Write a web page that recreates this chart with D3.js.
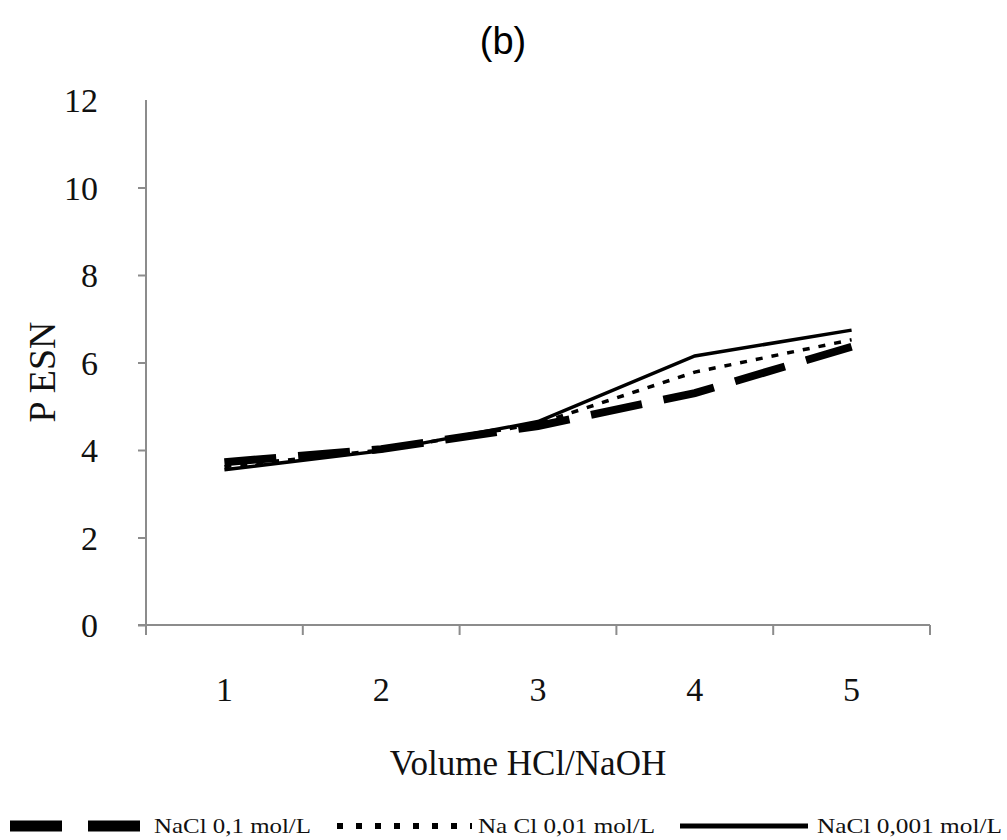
<!DOCTYPE html>
<html>
<head>
<meta charset="utf-8">
<script src="https://cdn.jsdelivr.net/npm/d3@7"></script>
<style>
  body { margin: 0; background: #fff; }
  svg { display: block; }
</style>
</head>
<body>
<div id="chart"></div>
<script>
// Data
const volumes = [1, 2, 3, 4, 5];
const yTicks = [0, 2, 4, 6, 8, 10, 12];
const nacl01 = [3.72, 4.02, 4.55, 5.3, 6.36];    // NaCl 0,1 mol/L
const nacl001 = [3.62, 4.0, 4.6, 5.78, 6.52];    // Na Cl 0,01 mol/L
const nacl0001 = [3.55, 3.98, 4.65, 6.15, 6.74]; // NaCl 0,001 mol/L

const seriesNames = ["NaCl 0,1 mol/L", "Na Cl 0,01 mol/L", "NaCl 0,001 mol/L"];
const seriesValues = [nacl01, nacl001, nacl0001];

const width = 1007;
const height = 840;
const margin = { top: 100, right: 77, bottom: 215, left: 146 };
const axisColor = "#8c8c8c";
const serif = "'Liberation Serif', 'Times New Roman', serif";

const svg = d3.select("#chart").append("svg")
    .attr("width", width)
    .attr("height", height);

// Scales
const x = d3.scaleBand()
    .domain(volumes)
    .range([margin.left, width - margin.right]);

const y = d3.scaleLinear()
    .domain([0, 12])
    .range([height - margin.bottom, margin.top]);

// line styles for each series
const styles = [
    { width: 8, dash: "52 22" },
    { width: 3.5, dash: "7 9" },
    { width: 3.5, dash: null }
];

// Title
svg.append("text")
    .attr("x", 503)
    .attr("y", 54)
    .attr("text-anchor", "middle")
    .style("font-family", "'Liberation Sans', Arial, sans-serif")
    .style("font-size", "38px")
    .text("(b)");

// Y axis
const yAxis = svg.append("g")
    .attr("transform", `translate(${margin.left},0)`)
    .call(d3.axisLeft(y).tickValues(yTicks).tickSize(8).tickPadding(40).tickSizeOuter(0));
yAxis.select(".domain")
    .attr("stroke", axisColor)
    .attr("stroke-width", 2)
    .attr("d", `M0,${margin.top}V${y(0) + 10}`);
yAxis.selectAll(".tick line")
    .attr("stroke", axisColor)
    .attr("stroke-width", 2)
    .filter(d => d === 12).remove();
yAxis.selectAll(".tick text")
    .attr("dy", "0.35em")
    .style("font-family", serif)
    .style("font-size", "34px")
    .attr("fill", "#111");

// X axis: ticks on band boundaries, labels at band centres
const xAxis = svg.append("g")
    .attr("transform", `translate(0,${y(0)})`);
xAxis.append("line")
    .attr("x1", margin.left - 8)
    .attr("x2", width - margin.right)
    .attr("stroke", axisColor)
    .attr("stroke-width", 2);
const bounds = volumes.map(v => x(v)).concat([x.range()[1]]);
xAxis.selectAll("line.tick")
    .data(bounds)
    .enter()
    .append("line")
    .attr("class", "tick")
    .attr("x1", d => d)
    .attr("x2", d => d)
    .attr("y1", 0)
    .attr("y2", 10)
    .attr("stroke", axisColor)
    .attr("stroke-width", 2);
xAxis.selectAll("text")
    .data(volumes)
    .enter()
    .append("text")
    .attr("x", d => x(d) + x.bandwidth() / 2)
    .attr("y", 76)
    .attr("text-anchor", "middle")
    .style("font-family", serif)
    .style("font-size", "34px")
    .attr("fill", "#111")
    .text(d => d);

// Axis titles
svg.append("text")
    .attr("x", 528)
    .attr("y", 775)
    .attr("text-anchor", "middle")
    .style("font-family", serif)
    .style("font-size", "35px")
    .attr("fill", "#111")
    .text("Volume HCl/NaOH");

svg.append("text")
    .attr("transform", "translate(55,372) rotate(-90)")
    .attr("text-anchor", "middle")
    .style("font-family", serif)
    .style("font-size", "38px")
    .attr("fill", "#111")
    .text("P ESN");

// Lines
const line = d3.line()
    .x((d, i) => x(volumes[i]) + x.bandwidth() / 2)
    .y(d => y(d));

seriesValues.forEach((vals, i) => {
    svg.append("path")
        .datum(vals)
        .attr("fill", "none")
        .attr("stroke", "#000")
        .attr("stroke-width", styles[i].width)
        .attr("stroke-dasharray", styles[i].dash)
        .attr("d", line);
});

// Legend
const legendY = 826;
const legendItems = [
    { x1: 10, x2: 142, tx: 154, tl: 157, dash: "52 26", w: 11 },
    { x1: 337, x2: 472, tx: 478, tl: 177, dash: "6 13", w: 6 },
    { x1: 680, x2: 808, tx: 817, tl: 185, dash: null, w: 5 }
];
const legend = svg.append("g");
legendItems.forEach((it, i) => {
    legend.append("line")
        .attr("x1", it.x1)
        .attr("x2", it.x2)
        .attr("y1", legendY)
        .attr("y2", legendY)
        .attr("stroke", "#000")
        .attr("stroke-width", it.w)
        .attr("stroke-dasharray", it.dash);
    legend.append("text")
        .attr("x", it.tx)
        .attr("y", legendY + 7)
        .attr("textLength", it.tl)
        .attr("lengthAdjust", "spacingAndGlyphs")
        .style("font-family", serif)
        .style("font-size", "21px")
        .attr("fill", "#111")
        .text(seriesNames[i]);
});
</script>
</body>
</html>
